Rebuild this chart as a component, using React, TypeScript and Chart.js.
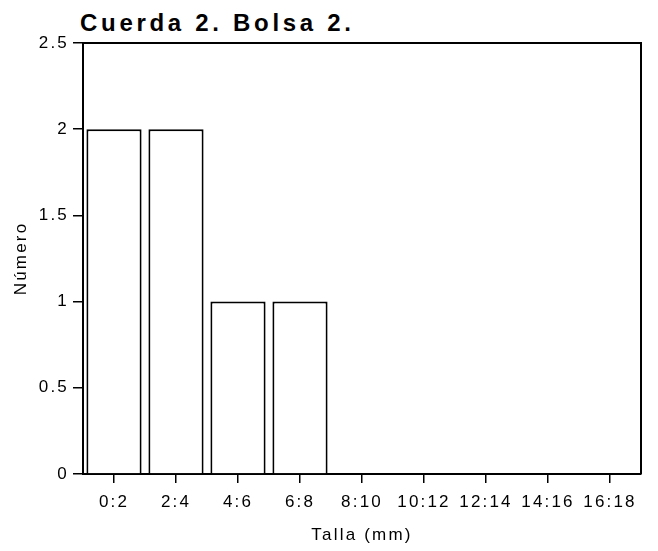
import { useEffect, useRef } from 'react';
import { Chart, registerables } from 'chart.js';

Chart.register(...registerables);

const chartTitle = 'Cuerda 2. Bolsa 2.';
const categories = ['0:2', '2:4', '4:6', '6:8', '8:10', '10:12', '12:14', '14:16', '16:18'];
const counts = [2, 2, 1, 1, 0, 0, 0, 0, 0];
const yMin = 0;
const yMax = 2.5;
const yStep = 0.5;
const xAxisTitle = 'Talla (mm)';
const yAxisTitle = 'Número';

const FONT = '"Liberation Sans", Arial, Helvetica, sans-serif';

const spacingPlugin = {
  id: 'letterSpacing',
  beforeUpdate(chart: any) {
    chart.ctx.letterSpacing = '2.2px';
  },
  beforeDraw(chart: any) {
    chart.ctx.letterSpacing = '2.2px';
  },
  afterDraw(chart: any) {
    const { ctx, chartArea } = chart;
    ctx.save();
    ctx.strokeStyle = '#000';
    ctx.lineWidth = 2;
    ctx.beginPath();
    ctx.moveTo(chartArea.left, chartArea.top);
    ctx.lineTo(chartArea.right, chartArea.top);
    ctx.lineTo(chartArea.right, chartArea.bottom);
    ctx.stroke();
    ctx.restore();
  },
};

export default function App() {
  const canvasRef = useRef<HTMLCanvasElement | null>(null);

  useEffect(() => {
    if (!canvasRef.current) return;
    Chart.defaults.color = '#000';
    Chart.defaults.font.family = FONT;
    const chart = new Chart(canvasRef.current, {
      type: 'bar',
      data: {
        labels: categories,
        datasets: [
          {
            data: counts,
            backgroundColor: '#fff',
            borderColor: '#000',
            borderWidth: 2,
            barPercentage: 0.89,
            categoryPercentage: 1,
          },
        ],
      },
      options: {
        animation: false,
        responsive: false,
        devicePixelRatio: 1,
        layout: { padding: { top: 43, right: 17, left: 0, bottom: 0 } },
        plugins: {
          legend: { display: false },
          tooltip: { enabled: false },
          title: { display: false },
        },
        scales: {
          x: {
            type: 'category',
            offset: true,
            grid: {
              offset: false,
              drawOnChartArea: false,
              drawTicks: true,
              tickLength: 9,
              color: '#000',
              lineWidth: 1.5,
            },
            border: { display: true, color: '#000', width: 2 },
            ticks: {
              font: { size: 17, family: FONT },
              color: '#000',
              padding: 9,
              maxRotation: 0,
              autoSkip: false,
            },
            title: {
              display: true,
              text: xAxisTitle,
              font: { size: 17, family: FONT },
              color: '#000',
              padding: { top: 0, bottom: 5 },
            },
            afterFit(scale: any) {
              scale.height = 77;
            },
          },
          y: {
            type: 'linear',
            min: yMin,
            max: yMax,
            grid: {
              drawOnChartArea: false,
              drawTicks: true,
              tickLength: 10,
              color: '#000',
              lineWidth: 1.5,
            },
            border: { display: true, color: '#000', width: 2 },
            ticks: {
              stepSize: yStep,
              font: { size: 17, family: FONT },
              color: '#000',
              padding: 4,
              callback: (value: any) => String(Number(value)),
            },
            title: {
              display: true,
              text: yAxisTitle,
              font: { size: 17, family: FONT },
              color: '#000',
              padding: { top: 11, bottom: 0 },
            },
            afterFit(scale: any) {
              scale.width = 83;
            },
          },
        },
      },
      plugins: [spacingPlugin],
    });
    return () => chart.destroy();
  }, []);

  return (
    <div style={{ position: 'fixed', left: 0, top: 0, width: 658, height: 551, background: '#fff' }}>
      <div
        style={{
          position: 'absolute',
          left: 80,
          top: 11,
          fontFamily: FONT,
          fontWeight: 700,
          fontSize: 24,
          lineHeight: '24px',
          letterSpacing: '3.7px',
          color: '#000',
          whiteSpace: 'nowrap',
        }}
      >
        {chartTitle}
      </div>
      <canvas
        ref={canvasRef}
        width={658}
        height={551}
        style={{ position: 'absolute', left: 0, top: 0, width: 658, height: 551 }}
      />
    </div>
  );
}
